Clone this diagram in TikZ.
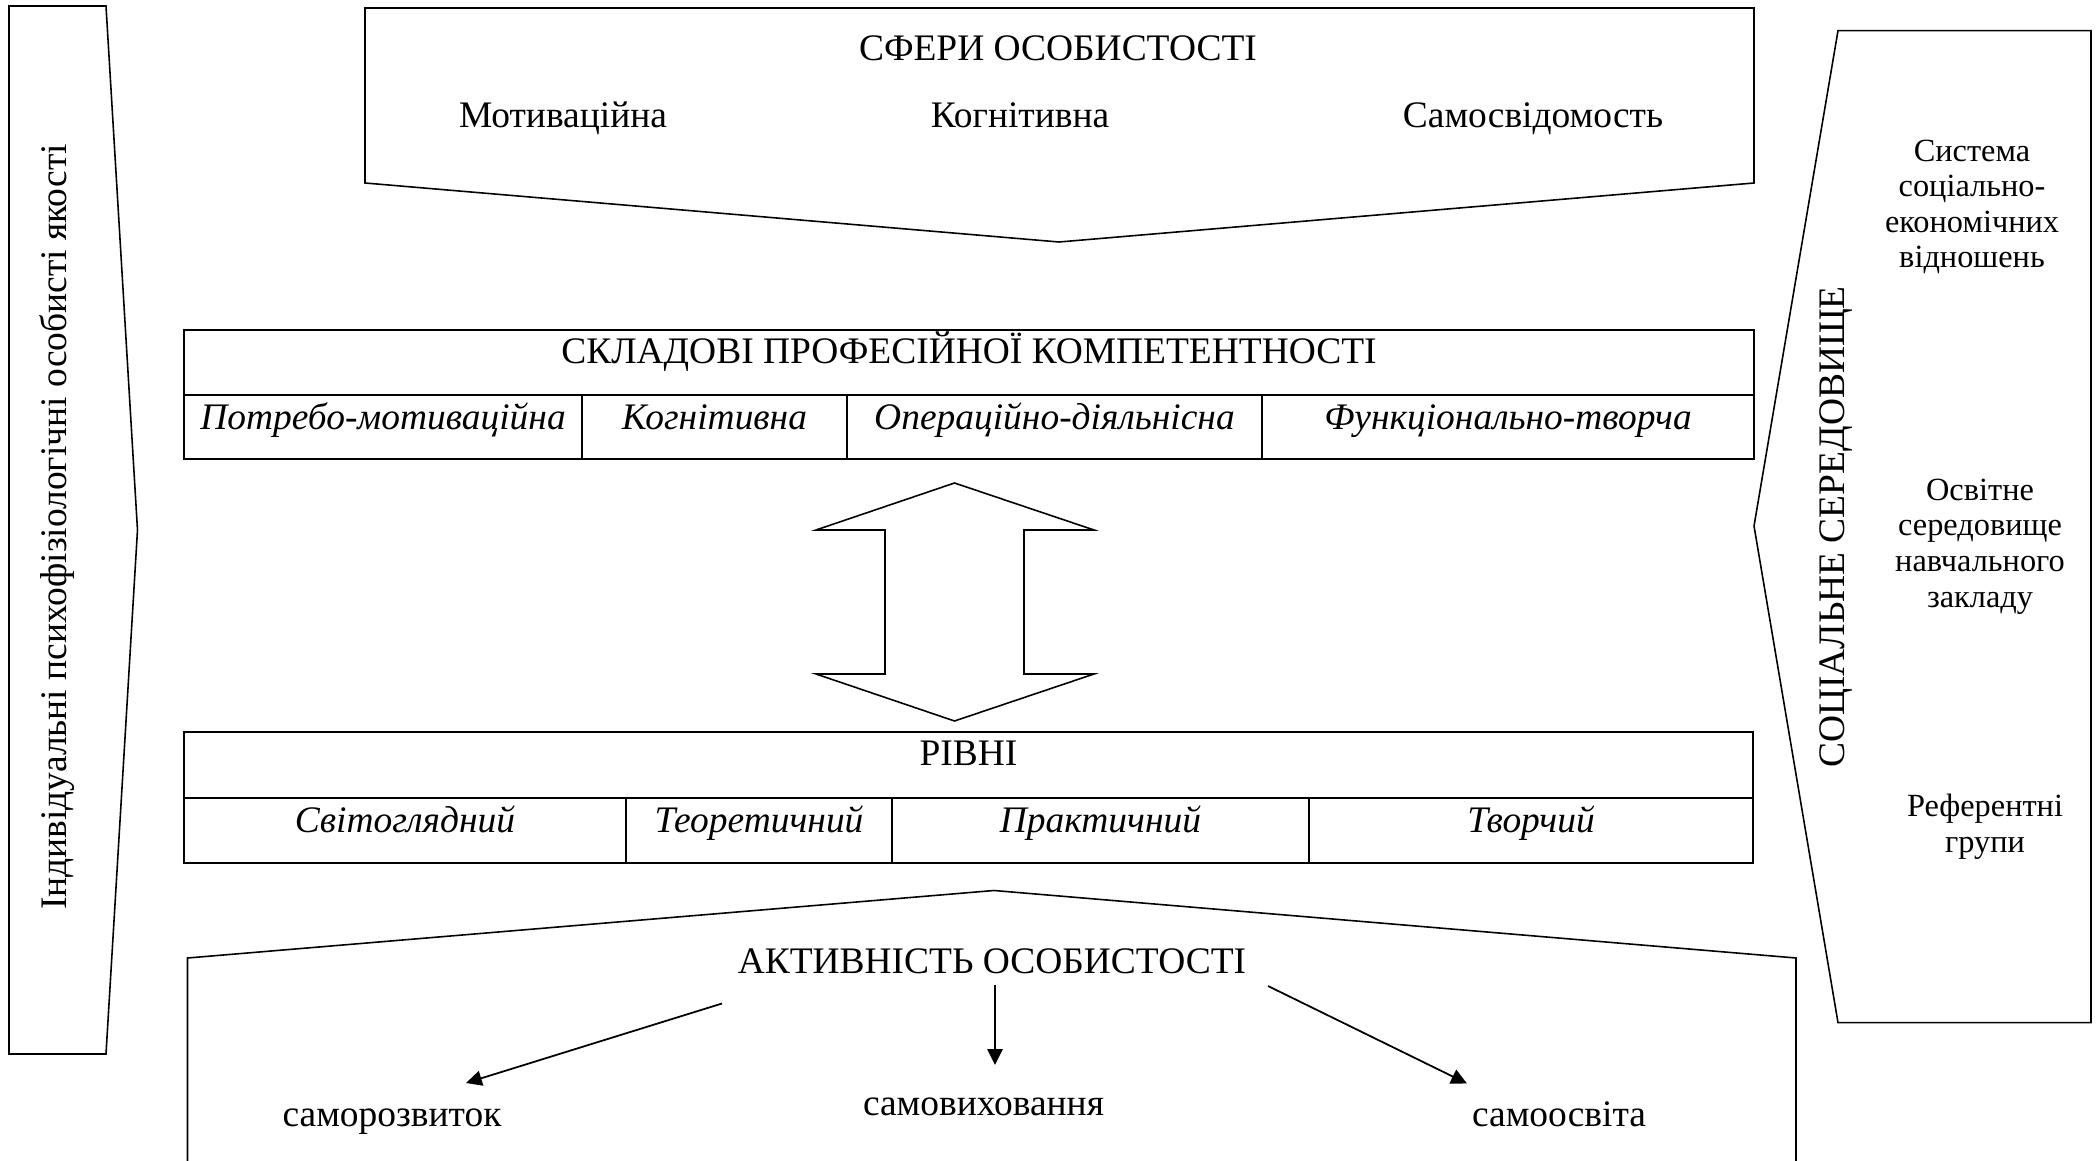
\documentclass[tikz,border=0pt]{standalone}
\usepackage{fontspec}
\setmainfont{Liberation Serif}
\usetikzlibrary{arrows.meta}
\begin{document}
\begin{tikzpicture}[x=0.01cm,y=-0.01cm,
  outline/.style={draw=black,line width=0.45pt,line join=miter},
  tbl/.style={draw=black,line width=0.6pt},
  txt/.style={inner sep=0pt,anchor=base,font=\fontsize{10.65}{12.8}\selectfont},
  itx/.style={inner sep=0pt,anchor=base,font=\fontsize{10.65}{12.8}\selectfont\itshape},
  stx/.style={inner sep=0pt,anchor=base,align=center,font=\fontsize{9.2}{10.1}\selectfont},
  arr/.style={line width=0.5pt,-{Triangle[length=4.5pt,width=4.3pt]}}]
\useasboundingbox (0,0) rectangle (2100,1161);

% left shape
\draw[outline] (9,6) -- (106,6) -- (137.5,530) -- (106,1054) -- (9,1054) -- cycle;
\node[txt,rotate=90] (indiv) at (67,527) {Індивідуальні психофізіологічні особисті якості};

% top pentagon
\draw[outline] (365,8) -- (1754,8) -- (1754,183) -- (1059,242) -- (365,183) -- cycle;
\node[txt] (sfery) at (1058,61) {СФЕРИ ОСОБИСТОСТІ};
\node[txt] (motiv) at (563,128) {Мотиваційна};
\node[txt] (cogn) at (1020,128) {Когнітивна};
\node[txt] (selfc) at (1533,128) {Самосвідомость};

% components table
\draw[tbl] (184,330) rectangle (1754,459);
\draw[tbl] (184,395) -- (1754,395);
\draw[tbl] (582,395) -- (582,459);
\draw[tbl] (847,395) -- (847,459);
\draw[tbl] (1262,395) -- (1262,459);
\node[txt] (comp) at (969,364) {СКЛАДОВІ ПРОФЕСІЙНОЇ КОМПЕТЕНТНОСТІ};
\node[itx] (c1) at (383,430) {Потребо-мотиваційна};
\node[itx] (c2) at (714.5,430) {Когнітивна};
\node[itx] (c3) at (1054.5,430) {Операційно-діяльнісна};
\node[itx] (c4) at (1508,430) {Функціонально-творча};

% double arrow
\draw[outline] (954.5,483) -- (1094,530) -- (1024,530) -- (1024,674) -- (1094,674)
  -- (954.5,721) -- (816,674) -- (885,674) -- (885,530) -- (816,530) -- cycle;

% levels table
\draw[tbl] (184,732) rectangle (1753,863);
\draw[tbl] (184,798) -- (1753,798);
\draw[tbl] (626,798) -- (626,863);
\draw[tbl] (892,798) -- (892,863);
\draw[tbl] (1309,798) -- (1309,863);
\node[txt] (levels) at (968.5,765) {РІВНІ};
\node[itx] (l1) at (405,832) {Світоглядний};
\node[itx] (l2) at (759,832) {Теоретичний};
\node[itx] (l3) at (1100.5,832) {Практичний};
\node[itx] (l4) at (1531,832) {Творчий};

% bottom pentagon (open)
\draw[outline] (187.5,1170) -- (187.5,958) -- (994,890.5) -- (1796,958) -- (1796,1170);
\node[txt] (activ) at (992,973.5) {АКТИВНІСТЬ ОСОБИСТОСТІ};
\coordinate (aL) at (722,1003.5);
\coordinate (aM) at (995,985);
\coordinate (aR) at (1268,986);
\node[txt] (srozv) at (392,1126.5) {саморозвиток};
\node[txt] (svyh) at (983.5,1115.5) {самовиховання};
\node[txt] (sosv) at (1559,1126.5) {самоосвіта};
\coordinate (tL) at (466,1083);
\coordinate (tM) at (995,1065);
\coordinate (tR) at (1467,1083.5);
\draw[arr] (aL) -- (tL);
\draw[arr] (aM) -- (tM);
\draw[arr] (aR) -- (tR);

% right shape
\draw[outline] (1838,30.6) -- (2091,30.6) -- (2091,1022.7) -- (1838,1022.7) -- (1754,526) -- cycle;
\node[txt,rotate=90] (soc) at (1844,527) {СОЦІАЛЬНЕ СЕРЕДОВИЩЕ};
\node[stx] (sys) at (1972,268) {Система\\соціально-\\економічних\\відношень};
\node[stx] (edu) at (1980,607) {Освітне\\середовище\\навчального\\закладу};
\node[stx] (ref) at (1985,852) {Референтні\\групи};
\end{tikzpicture}
\end{document}
